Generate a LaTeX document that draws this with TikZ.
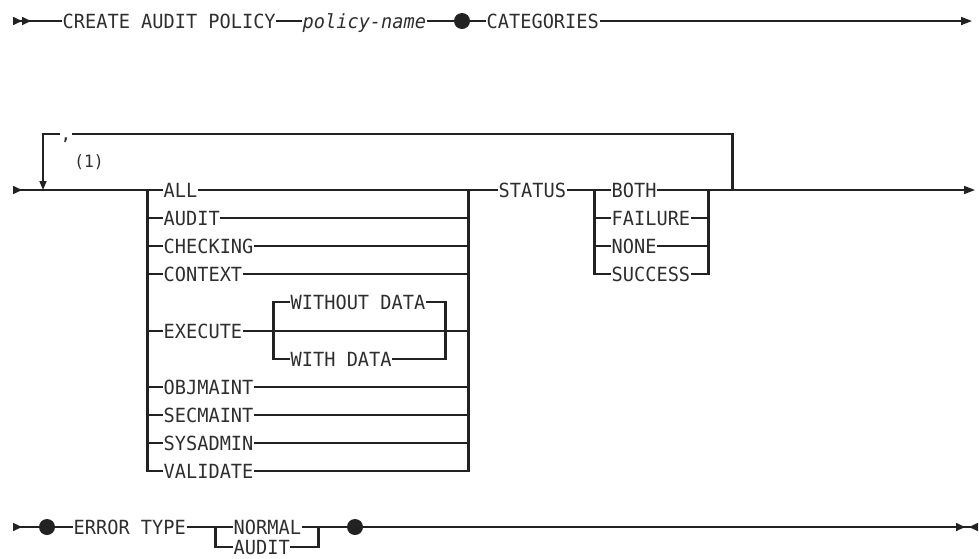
\documentclass[tikz,border=0pt]{standalone}
\usepackage{fontspec}
\setmonofont{DejaVu Sans Mono}[FakeStretch=0.955]
\usetikzlibrary{arrows.meta,positioning}

\definecolor{rail}{HTML}{222222}
\definecolor{word}{HTML}{2E2E2E}

\begin{document}
\begin{tikzpicture}[
    x=1pt, y=-1pt,
    font=\ttfamily\fontsize{19.5}{21}\selectfont,
    hl/.style={draw=rail, line width=1.6pt},
    vl/.style={draw=rail, line width=3pt, shorten <=-0.8pt, shorten >=-0.8pt},
    arr/.style={hl, -{Triangle[length=11pt,width=8pt]}},
    sarr/.style={hl, {Triangle[reversed,length=9pt,width=8pt]}-},
    ssarr/.style={hl, {Triangle[reversed,length=9pt,width=8pt] Triangle[reversed,length=9pt,width=8pt]}-},
    farr/.style={hl, -{Triangle[length=9pt,width=8pt,sep=4pt] Triangle[reversed,length=9pt,width=8pt]}},
    kw/.style={anchor=west, inner sep=0.5pt, text=word, text height=14.2pt, text depth=0pt},
    varname/.style={kw, font=\ttfamily\itshape\fontsize{19.5}{21}\selectfont},
    bullet/.style={circle, fill=rail, inner sep=0pt, minimum size=16pt},
    note/.style={text=word, inner sep=0pt, font=\ttfamily\fontsize{17}{19}\selectfont},
    sepmark/.style={text=word, inner sep=0pt, text height=0pt, text depth=0pt,
                    font=\ttfamily\bfseries\fontsize{15}{15}\selectfont}
]
\useasboundingbox (0,0) rectangle (979,558);

% ---- row y-positions ----
\def\rOne{21}
\def\rTop{134}
\def\rTwo{190}
\def\rThree{527}

% ---- column x-positions ----
\def\cLoop{43}
\def\cA{147}
\def\cB{468}
\def\cX{273}
\def\cY{445}
\def\cS{594}
\def\cT{708}
\def\cR{732}

% ===== ROW 1 =====
\coordinate (s1) at (13,\rOne);
\node[kw] (create) at (62,\rOne) {CREATE AUDIT POLICY};
\node[varname] (pname) at (302,\rOne) {policy-name};
\node[bullet] (b1) at (462,\rOne) {};
\node[kw] (categ) at (486,\rOne) {CATEGORIES};
\coordinate (e1) at (972,\rOne);

\draw[ssarr] (s1) -- (create);
\draw[hl] (create) -- (pname);
\draw[hl] (pname) -- (b1);
\draw[hl] (b1) -- (categ);
\draw[arr] (categ) -- (e1);

% ===== ROW 2 =====
\coordinate (s2) at (13,\rTwo);
\coordinate (aTop) at (\cA,\rTwo);
\coordinate (aBot) at (\cA,471);
\coordinate (bTop) at (\cB,\rTwo);
\coordinate (bBot) at (\cB,471);
\coordinate (xL) at (\cX,\rTwo);
\coordinate (xR) at (\cY,\rTwo);
\coordinate (sTop) at (\cS,\rTwo);
\coordinate (sBot) at (\cS,274);
\coordinate (tTop) at (\cT,\rTwo);
\coordinate (tBot) at (\cT,274);
\coordinate (rBot) at (\cR,\rTwo);
\coordinate (rTop) at (\cR,\rTop);
\coordinate (sepL) at (60,\rTop);
\coordinate (sepR) at (72,\rTop);
\coordinate (loopEnd) at (\cLoop,\rTwo);
\coordinate (e2) at (975,\rTwo);

% categories
\node[kw] (all)      at (163,190) {ALL};
\node[kw] (audit)    at (163,218) {AUDIT};
\node[kw] (checking) at (163,246) {CHECKING};
\node[kw] (context)  at (163,274) {CONTEXT};
\node[kw] (wout)     at (290,302) {WITHOUT DATA};
\node[kw] (execute)  at (163,331) {EXECUTE};
\node[kw] (wdat)     at (290,359) {WITH DATA};
\node[kw] (objmaint) at (163,387) {OBJMAINT};
\node[kw] (secmaint) at (163,415) {SECMAINT};
\node[kw] (sysadmin) at (163,443) {SYSADMIN};
\node[kw] (validate) at (163,471) {VALIDATE};

% status
\node[kw] (status)  at (498,\rTwo) {STATUS};
\node[kw] (both)    at (611,190) {BOTH};
\node[kw] (failure) at (611,218) {FAILURE};
\node[kw] (none)    at (611,246) {NONE};
\node[kw] (success) at (611,274) {SUCCESS};

% main line
\draw[sarr] (s2) -- (aTop) -- (all);
\draw[hl] (all) -- (bTop) -- (status);
\draw[hl] (status) -- (sTop) -- (both);
\draw[hl] (both) -- (tTop) -- (rBot);
\draw[arr] (rBot) -- (e2);

% choice stacks
\draw[vl] (aTop) -- (aBot);
\draw[vl] (bTop) -- (bBot);
\draw[hl] (audit -| aTop) -- (audit) -- (audit -| bTop);
\draw[hl] (checking -| aTop) -- (checking) -- (checking -| bTop);
\draw[hl] (context -| aTop) -- (context) -- (context -| bTop);
\draw[hl] (execute -| aTop) -- (execute) -- (execute -| bTop);
\draw[hl] (objmaint -| aTop) -- (objmaint) -- (objmaint -| bTop);
\draw[hl] (secmaint -| aTop) -- (secmaint) -- (secmaint -| bTop);
\draw[hl] (sysadmin -| aTop) -- (sysadmin) -- (sysadmin -| bTop);
\draw[hl] (validate -| aTop) -- (validate) -- (validate -| bTop);

% execute options
\draw[vl] (wout -| xL) -- (wdat -| xL);
\draw[vl] (wout -| xR) -- (wdat -| xR);
\draw[hl] (wout -| xL) -- (wout) -- (wout -| xR);
\draw[hl] (wdat -| xL) -- (wdat) -- (wdat -| xR);

\draw[vl] (sTop) -- (sBot);
\draw[vl] (tTop) -- (tBot);
\draw[hl] (failure -| sTop) -- (failure) -- (failure -| tTop);
\draw[hl] (none -| sTop) -- (none) -- (none -| tTop);
\draw[hl] (success -| sTop) -- (success) -- (success -| tTop);

% repeat loop
\draw[vl] (rBot) -- (rTop);
\draw[hl] (rTop) -- (sepR);
\draw[hl, -{Triangle[length=9pt,width=7pt]}] (sepL) -| (loopEnd);
\node[sepmark, anchor=north] (comma) at (66,140) {,};
\node[note] (fn) at (89,162) {(1)};

% ===== ROW 3 =====
\coordinate (s3) at (13,\rThree);
\node[bullet] (b2) at (47,\rThree) {};
\node[kw] (etype) at (73,\rThree) {ERROR TYPE};
\coordinate (nL) at (215,\rThree);
\node[kw] (normal) at (233,\rThree) {NORMAL};
\node[kw] (auditb) at (233,547) {AUDIT};
\coordinate (nR) at (318,\rThree);
\node[bullet] (b3) at (355,\rThree) {};
\coordinate (e3) at (978,\rThree);

\draw[sarr] (s3) -- (b2);
\draw[hl] (b2) -- (etype);
\draw[hl] (etype) -- (nL) -- (normal);
\draw[hl] (normal) -- (nR) -- (b3);
\draw[farr] (b3) -- (e3);
\draw[vl] (nL) -- (auditb -| nL);
\draw[vl] (nR) -- (auditb -| nR);
\draw[hl] (auditb -| nL) -- (auditb) -- (auditb -| nR);

\end{tikzpicture}
\end{document}
